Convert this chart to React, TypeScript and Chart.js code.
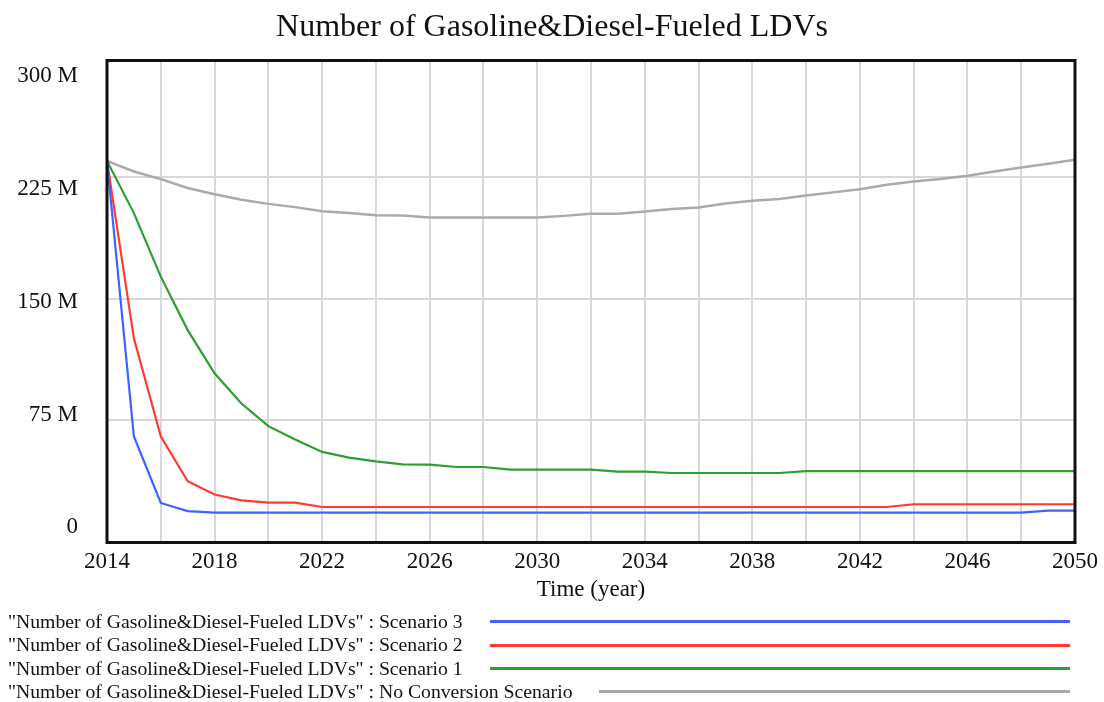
import React, { useEffect, useRef } from "react";
import { Chart, registerables } from "chart.js";

Chart.register(...registerables);

const FONT = "'Liberation Serif', 'Times New Roman', serif";

const chartTitle = "Number of Gasoline&Diesel-Fueled LDVs";
const xAxisTitle = "Time (year)";

const years = [
  2014, 2015, 2016, 2017, 2018, 2019, 2020, 2021, 2022, 2023, 2024, 2025, 2026,
  2027, 2028, 2029, 2030, 2031, 2032, 2033, 2034, 2035, 2036, 2037, 2038, 2039,
  2040, 2041, 2042, 2043, 2044, 2045, 2046, 2047, 2048, 2049, 2050,
];

// values in millions
const scenario3 = [
  235, 65, 23.9, 18.9, 17.9, 17.9, 17.9, 17.9, 17.9, 17.9, 17.9, 17.9, 17.9,
  17.9, 17.9, 17.9, 17.9, 17.9, 17.9, 17.9, 17.9, 17.9, 17.9, 17.9, 17.9, 17.9,
  17.9, 17.9, 17.9, 17.9, 17.9, 17.9, 17.9, 17.9, 17.9, 19.2, 19.2,
];
const scenario2 = [
  235, 125.5, 65, 37.3, 29.1, 25.5, 24.1, 24.1, 21.4, 21.4, 21.4, 21.4, 21.4,
  21.4, 21.4, 21.4, 21.4, 21.4, 21.4, 21.4, 21.4, 21.4, 21.4, 21.4, 21.4, 21.4,
  21.4, 21.4, 21.4, 21.4, 23.1, 23.1, 23.1, 23.1, 23.1, 23.1, 23.1,
];
const scenario1 = [
  235, 202.8, 163.6, 130.6, 103.9, 85.3, 71.3, 63.1, 55.4, 51.9, 49.6, 47.7,
  47.6, 46.1, 46.1, 44.5, 44.5, 44.5, 44.5, 43.3, 43.3, 42.4, 42.4, 42.4, 42.4,
  42.4, 43.5, 43.5, 43.5, 43.5, 43.5, 43.5, 43.5, 43.5, 43.5, 43.5, 43.5,
];
const noConversion = [
  235, 228.5, 223.8, 218.3, 214.5, 211.0, 208.5, 206.5, 204.0, 202.8, 201.5,
  201.3, 200.1, 200.1, 200.1, 200.1, 200.1, 201.1, 202.4, 202.4, 203.8, 205.3,
  206.3, 208.7, 210.4, 211.5, 213.7, 215.6, 217.6, 220.3, 222.3, 223.8, 225.9,
  228.5, 231.0, 233.3, 235.8,
];

const xGridYears = [
  2014, 2016, 2018, 2020, 2022, 2024, 2026, 2028, 2030, 2032, 2034, 2036, 2038,
  2040, 2042, 2044, 2046, 2048, 2050,
];
const xLabelYears = [2014, 2018, 2022, 2026, 2030, 2034, 2038, 2042, 2046, 2050];
const yGridValues = [75, 150, 225];
const yLabelValues = [0, 75, 150, 225, 300];

const seriesLabels = [
  '"Number of Gasoline&Diesel-Fueled LDVs" : Scenario 3',
  '"Number of Gasoline&Diesel-Fueled LDVs" : Scenario 2',
  '"Number of Gasoline&Diesel-Fueled LDVs" : Scenario 1',
  '"Number of Gasoline&Diesel-Fueled LDVs" : No Conversion Scenario',
];
const seriesColors = ["#3d63ff", "#ff3b2c", "#2f9e30", "#aaaaaa"];
const seriesValues = [scenario3, scenario2, scenario1, noConversion];

const TEXT = "#111111";
const GRID = "#d8d8d8";

const framePlugin = {
  id: "frame",
  afterDatasetsDraw(chart: any) {
    const { ctx, chartArea } = chart;
    const { left, top, right, bottom } = chartArea;
    ctx.save();
    ctx.strokeStyle = "#111111";
    ctx.lineWidth = 3;
    ctx.strokeRect(left, top, right - left, bottom - top);
    ctx.restore();
  },
};

export default function App() {
  const canvasRef = useRef<HTMLCanvasElement | null>(null);

  useEffect(() => {
    if (!canvasRef.current) return;
    const datasets = seriesValues.map((vals, i) => ({
      label: seriesLabels[i],
      data: years.map((x, j) => ({ x, y: vals[j] })),
      borderColor: seriesColors[i],
      backgroundColor: seriesColors[i],
      borderWidth: i === 3 ? 2.5 : 2.2,
      pointRadius: 0,
      tension: 0,
      fill: false,
      xAxisID: "x",
      yAxisID: "y",
    }));

    const chart = new Chart(canvasRef.current, {
      type: "line",
      data: { datasets },
      plugins: [framePlugin],
      options: {
        responsive: false,
        animation: false,
        layout: { padding: 0 },
        plugins: {
          legend: { display: false },
          tooltip: { enabled: false },
          title: {
            display: true,
            text: chartTitle,
            color: TEXT,
            font: { family: FONT, size: 32, weight: "normal" },
            padding: { top: 8, bottom: 14.1 },
          },
        },
        scales: {
          x: {
            type: "linear",
            position: "bottom",
            min: 2014,
            max: 2050,
            afterBuildTicks: (s: any) => {
              s.ticks = xGridYears.map((v) => ({ value: v }));
            },
            afterFit: (s: any) => {
              s.height = 69.5;
              s.paddingLeft = 0;
              s.paddingRight = 29;
            },
            ticks: {
              autoSkip: false,
              maxRotation: 0,
              minRotation: 0,
              padding: 6,
              color: TEXT,
              font: { family: FONT, size: 23 },
              callback: (v: any) =>
                xLabelYears.includes(Number(v)) ? String(v) : "",
            },
            grid: { color: GRID, lineWidth: 2, drawTicks: false },
            border: { display: false },
            title: {
              display: true,
              text: xAxisTitle,
              color: TEXT,
              font: { family: FONT, size: 23 },
              padding: { top: 0, bottom: 8.2 },
            },
          },
          y: {
            type: "linear",
            position: "left",
            min: -0.5,
            max: 297,
            afterBuildTicks: (s: any) => {
              s.ticks = yGridValues.map((v) => ({ value: v }));
            },
            afterFit: (s: any) => {
              s.width = 0;
              s.paddingTop = 0;
              s.paddingBottom = 0;
            },
            ticks: { display: false },
            grid: { color: GRID, lineWidth: 2, drawTicks: false },
            border: { display: false },
          },
          yl: {
            type: "linear",
            position: "left",
            min: -10,
            max: 310,
            afterBuildTicks: (s: any) => {
              s.ticks = yLabelValues.map((v) => ({ value: v }));
            },
            afterFit: (s: any) => {
              s.width = 107;
              s.paddingTop = 0;
              s.paddingBottom = 0;
            },
            ticks: {
              padding: 29,
              color: TEXT,
              font: { family: FONT, size: 23 },
              callback: (v: any) => (Number(v) === 0 ? "0" : `${v} M`),
            },
            grid: { display: false, drawTicks: false },
            border: { display: false },
          },
        },
      } as any,
    });
    return () => chart.destroy();
  }, []);

  return (
    <div
      style={{
        position: "absolute",
        left: 0,
        top: 0,
        width: 1104,
        height: 702,
        background: "#ffffff",
      }}
    >
      <canvas
        ref={canvasRef}
        width={1104}
        height={612}
        style={{ position: "absolute", left: 0, top: 0, width: 1104, height: 612 }}
      />
      <div
        style={{
          position: "absolute",
          left: 8,
          top: 610,
          width: 1062,
          fontFamily: FONT,
          fontSize: 19.7,
          color: TEXT,
        }}
      >
        {seriesLabels.map((label, i) => (
          <div
            key={label}
            style={{ display: "flex", alignItems: "center", height: 23.4 }}
          >
            <span style={{ whiteSpace: "nowrap", lineHeight: "23.4px" }}>{label}</span>
            <div
              style={{
                flex: 1,
                marginLeft: 27,
                height: 0,
                borderTop: `3px solid ${seriesColors[i]}`,
              }}
            />
          </div>
        ))}
      </div>
    </div>
  );
}
